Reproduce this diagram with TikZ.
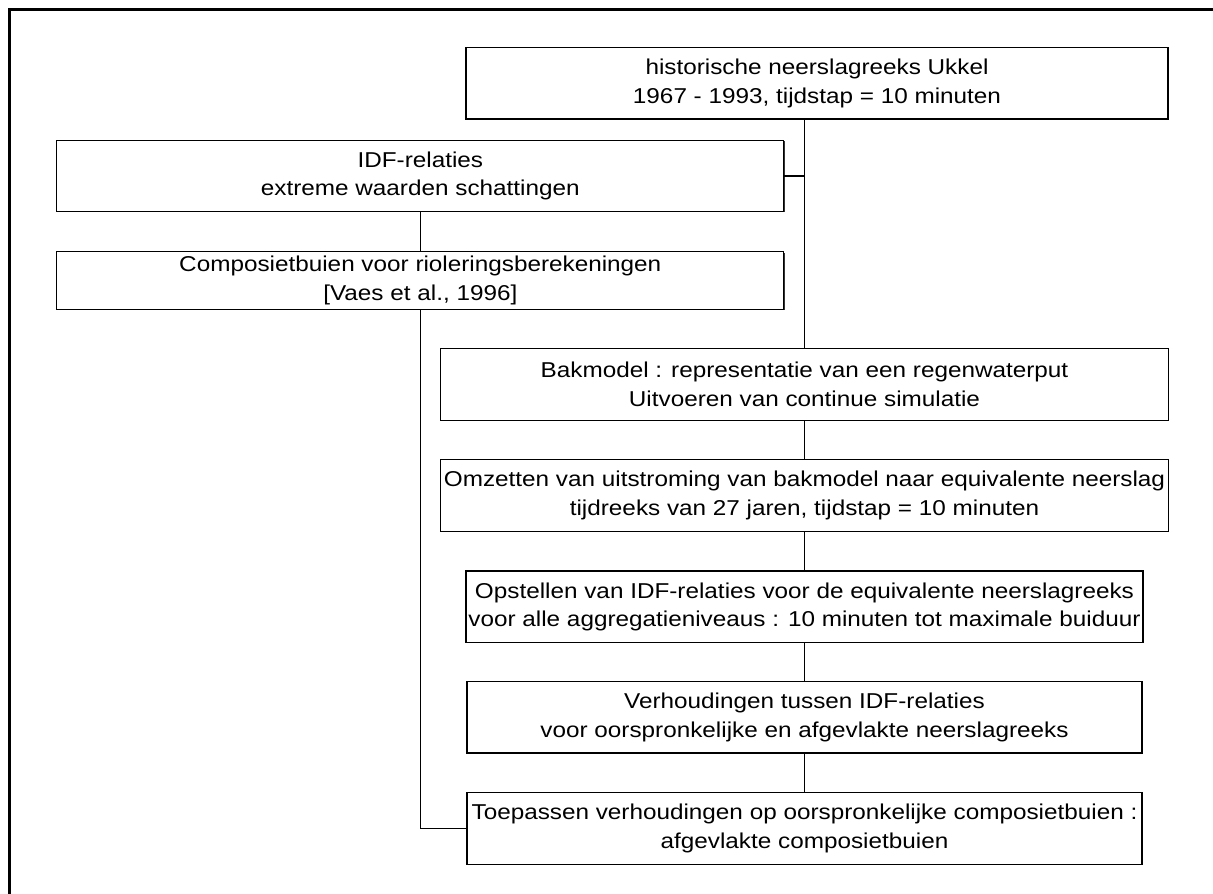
\documentclass[tikz,border=0pt]{standalone}
\usepackage{fontspec}
\setmainfont{Liberation Sans}[FakeStretch=1.13]
\usetikzlibrary{shadows}

\begin{document}
\begin{tikzpicture}[x=1pt, y=-1pt,
  stapbox/.style={draw=black, fill=white, line width=1.3pt, align=center, inner sep=0pt,
    font=\fontsize{21.5}{28.5}\selectfont,
    drop shadow={shadow xshift=0.8pt, shadow yshift=-0.8pt, fill=black, opacity=0.8}},
  verbind/.style={draw=black, line width=1.3pt}]

% --- PARAMETERS ---
\def\xL{420.3}              % centre of left column
\def\xR{804.5}              % centre of right column
\def\wL{727pt}              % width left boxes
\def\hB{71.5pt}             % box height

\useasboundingbox (0,0) rectangle (1213,894);

% --- FRAME ---
\draw[line width=3pt] (9.5,894) -- (9.5,9.5) -- (1213,9.5);

% --- BOXES ---
\node[stapbox, minimum width=702pt, minimum height=\hB] (hist) at (817,83.3)
  {historische neerslagreeks Ukkel\\1967 - 1993, tijdstap = 10 minuten};
\node[stapbox, minimum width=\wL, minimum height=\hB] (idf) at (\xL,175.9)
  {IDF-relaties\\extreme waarden schattingen};
\node[stapbox, minimum width=\wL, minimum height=57.6pt] (comp) at (\xL,280.5)
  {Composietbuien voor rioleringsberekeningen\\{}[Vaes et al., 1996]};
\node[stapbox, minimum width=728pt, minimum height=\hB] (bak) at (\xR,384.5)
  {Bakmodel : representatie van een regenwaterput\\Uitvoeren van continue simulatie};
\node[stapbox, minimum width=728pt, minimum height=\hB] (omz) at (\xR,495.5)
  {Omzetten van uitstroming van bakmodel naar equivalente neerslag\\tijdreeks van 27 jaren, tijdstap = 10 minuten};
\node[stapbox, minimum width=677pt, minimum height=\hB] (opst) at (\xR,606.7)
  {Opstellen van IDF-relaties voor de equivalente neerslagreeks\\voor alle aggregatieniveaus : 10 minuten tot maximale buiduur};
\node[stapbox, minimum width=675pt, minimum height=\hB] (verh) at (\xR,717.3)
  {Verhoudingen tussen IDF-relaties\\voor oorspronkelijke en afgevlakte neerslagreeks};
\node[stapbox, minimum width=675pt, minimum height=\hB] (toep) at (\xR,828.5)
  {Toepassen verhoudingen op oorspronkelijke composietbuien :\\afgevlakte composietbuien};

% --- CONNECTORS ---
\draw[verbind] (bak.north |- hist.south) -- (bak.north);
\draw[verbind] (idf.east) -- (idf.east -| bak.north);
\draw[verbind] (idf.south) -- (comp.north);
\draw[verbind] (comp.south) |- (toep.west);
\foreach \a/\b in {bak/omz, omz/opst, opst/verh, verh/toep}
  \draw[verbind] (\a.south) -- (\b.north);

\end{tikzpicture}
\end{document}
